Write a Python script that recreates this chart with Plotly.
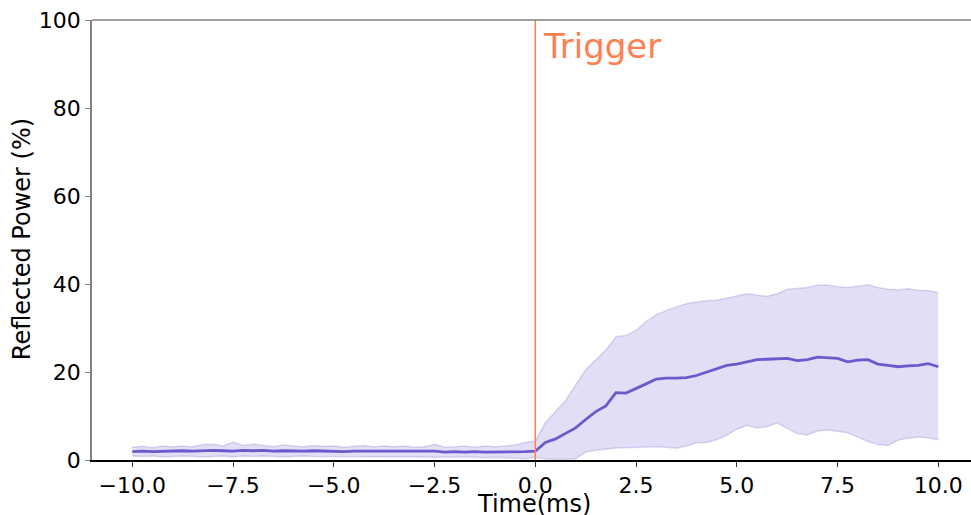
import plotly.graph_objects as go

time_ms = [-10.0, -9.75, -9.5, -9.25, -9.0, -8.75, -8.5, -8.25, -8.0, -7.75, -7.5, -7.25, -7.0, -6.75, -6.5, -6.25,
           -6.0, -5.75, -5.5, -5.25, -5.0, -4.75, -4.5, -4.25, -4.0, -3.75, -3.5, -3.25, -3.0, -2.75, -2.5, -2.25,
           -2.0, -1.75, -1.5, -1.25, -1.0, -0.75, -0.5, -0.25, 0.0, 0.25, 0.5, 0.75, 1.0, 1.25, 1.5, 1.75,
           2.0, 2.25, 2.5, 2.75, 3.0, 3.25, 3.5, 3.75, 4.0, 4.25, 4.5, 4.75, 5.0, 5.25, 5.5, 5.75,
           6.0, 6.25, 6.5, 6.75, 7.0, 7.25, 7.5, 7.75, 8.0, 8.25, 8.5, 8.75, 9.0, 9.25, 9.5, 9.75, 10.0]

mean_power = [1.9, 2.0, 1.9, 2.0, 2.0, 2.1, 2.0, 2.1, 2.2, 2.1, 2.0, 2.2, 2.1, 2.2, 2.0, 2.1,
              2.0, 2.0, 2.1, 2.0, 2.0, 1.9, 2.0, 2.0, 1.9, 2.0, 1.9, 2.0, 1.9, 1.9, 2.0, 1.8,
              1.9, 1.8, 1.9, 1.8, 1.8, 1.9, 1.8, 1.9, 2.0, 4.0, 4.8, 6.0, 7.3, 9.2, 11.0, 12.3,
              15.3, 15.2, 16.2, 17.3, 18.4, 18.6, 18.6, 18.7, 19.2, 20.0, 20.8, 21.5, 21.8, 22.3, 22.8, 22.9,
              23.0, 23.1, 22.6, 22.8, 23.4, 23.3, 23.1, 22.3, 22.7, 22.8, 21.8, 21.5, 21.2, 21.4, 21.5, 21.9, 21.2]

upper_power = [2.9, 3.1, 2.8, 3.2, 3.0, 3.2, 3.0, 3.5, 3.6, 3.2, 4.1, 3.3, 3.6, 3.3, 3.0, 3.4,
               3.2, 3.0, 3.3, 3.1, 3.2, 2.9, 3.1, 3.3, 3.0, 3.2, 3.0, 3.2, 2.9, 3.0, 3.6, 2.9,
               3.0, 3.2, 2.9, 3.2, 3.0, 3.2, 3.4, 4.0, 4.3, 8.5, 11.0, 13.5, 17.0, 20.5, 22.7, 25.0,
               28.0, 28.3, 29.5, 31.5, 33.0, 34.0, 34.8, 35.5, 35.9, 36.2, 36.3, 36.8, 37.3, 37.8, 37.5, 37.2,
               37.8, 38.8, 39.0, 39.2, 39.7, 39.8, 39.4, 39.2, 39.5, 39.8, 39.2, 38.8, 38.7, 38.9, 38.6, 38.5, 38.0]

lower_power = [0.9, 0.8, 0.9, 0.7, 0.8, 0.9, 0.8, 0.7, 0.8, 0.9, 0.7, 0.9, 0.8, 0.9, 0.8, 0.7,
               0.8, 0.9, 0.8, 0.8, 0.7, 0.8, 0.8, 0.7, 0.8, 0.7, 0.8, 0.7, 0.8, 0.7, 0.6, 0.7,
               0.6, 0.7, 0.6, 0.5, 0.6, 0.5, 0.4, 0.3, 0.6, 0.2, 0.1, 0.1, 0.3, 1.8, 2.2, 2.5,
               2.7, 2.8, 2.9, 3.0, 3.0, 2.9, 2.7, 3.2, 3.9, 4.0, 4.6, 5.6, 7.0, 7.9, 7.3, 7.6,
               8.4, 7.2, 6.0, 5.7, 6.6, 6.8, 6.5, 6.2, 5.2, 4.2, 3.5, 3.3, 4.5, 5.0, 5.2, 5.0, 4.6]

y_ticks = [0, 20, 40, 60, 80, 100]
x_ticks = [-10.0, -7.5, -5.0, -2.5, 0.0, 2.5, 5.0, 7.5, 10.0]
x_tick_labels = ["\u221210.0", "\u22127.5", "\u22125.0", "\u22122.5", "0.0", "2.5", "5.0", "7.5", "10.0"]

x_title = "Time(ms)"
y_title = "Reflected Power (%)"
trigger_time = 0.0
trigger_label = "Trigger"

band_line = "rgba(106,90,205,0.22)"
band_fill = "rgba(106,90,205,0.2)"
main_color = "#6A5ACD"
trigger_color = "#FF7F50"
font_family = "DejaVu Sans"

fig = go.Figure()
fig.add_trace(go.Scatter(x=time_ms, y=upper_power, mode="lines",
                         line=dict(color=band_line, width=1.5), showlegend=False, hoverinfo="skip"))
fig.add_trace(go.Scatter(x=time_ms, y=lower_power, mode="lines", fill="tonexty", fillcolor=band_fill,
                         line=dict(color=band_line, width=1.5), showlegend=False, hoverinfo="skip"))
fig.add_trace(go.Scatter(x=time_ms, y=mean_power, mode="lines",
                         line=dict(color=main_color, width=2.8), showlegend=False))

fig.add_shape(type="line", xref="x", yref="y", x0=trigger_time, x1=trigger_time, y0=0, y1=100,
              line=dict(color=trigger_color, width=1.5))
fig.add_shape(type="line", xref="paper", yref="paper", x0=0, x1=1, y0=1, y1=1,
              line=dict(color="#808080", width=1.5))

fig.add_annotation(x=trigger_time + 0.15, y=94, xref="x", yref="y", text=trigger_label,
                   showarrow=False, xanchor="left", yanchor="middle",
                   font=dict(family=font_family, size=34, color=trigger_color))

fig.add_annotation(x=0.503, y=-0.064, xref="paper", yref="paper", text=x_title,
                   showarrow=False, xanchor="center", yanchor="top",
                   font=dict(family=font_family, size=24, color="black"))
fig.add_annotation(x=-0.0796, y=0.502, xref="paper", yref="paper", text=y_title,
                   showarrow=False, xanchor="center", yanchor="middle", textangle=-90,
                   font=dict(family=font_family, size=24, color="black"))

fig.update_layout(
    width=971, height=515,
    margin=dict(l=92, r=0, t=20, b=55),
    plot_bgcolor="white", paper_bgcolor="white",
    font=dict(family=font_family, size=22, color="black"),
    xaxis=dict(range=[-11, 10.81], tickvals=x_ticks, ticktext=x_tick_labels,
               showgrid=False, zeroline=False, showline=True, linecolor="black", linewidth=1.5,
               ticks="outside", ticklen=5, tickwidth=1.2, tickcolor="#333333",
               tickfont=dict(size=22)),
    yaxis=dict(range=[0, 100], tickvals=y_ticks,
               showgrid=False, zeroline=False, showline=True, linecolor="#808080", linewidth=1.5,
               ticks="outside", ticklen=5, tickwidth=1.2, tickcolor="#808080",
               tickfont=dict(size=22)),
)

fig.write_html("out.html")
